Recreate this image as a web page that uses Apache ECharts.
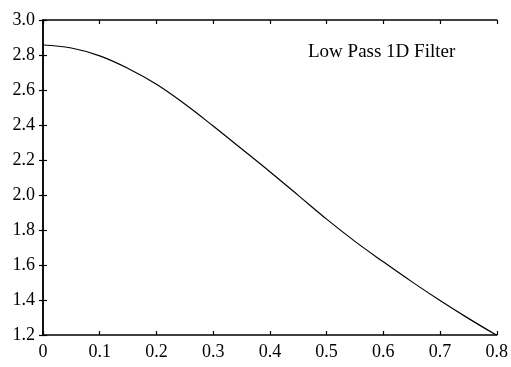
<!DOCTYPE html>
<html>
<head>
<meta charset="utf-8">
<script src="https://cdn.jsdelivr.net/npm/echarts@6/dist/echarts.min.js"></script>
<style>html,body{margin:0;padding:0;background:#fff}#c{width:511px;height:367px}</style>
</head>
<body>
<div id="c"></div>
<script>
const xValues = [0, 0.05, 0.1, 0.15, 0.2, 0.25, 0.3, 0.35, 0.4, 0.45, 0.5, 0.55, 0.6, 0.65, 0.7, 0.75, 0.8];
const yValues = [2.857, 2.84, 2.795, 2.723, 2.633, 2.52, 2.394, 2.264, 2.133, 1.998, 1.862, 1.735, 1.618, 1.505, 1.397, 1.295, 1.198];
const xTicks = ['0', '0.1', '0.2', '0.3', '0.4', '0.5', '0.6', '0.7', '0.8'];
const yTicks = ['1.2', '1.4', '1.6', '1.8', '2.0', '2.2', '2.4', '2.6', '2.8', '3.0'];
const title = 'Low Pass 1D Filter';

const font = 'Liberation Serif';
const chart = echarts.init(document.getElementById('c'));
const axisLine = {show: true, lineStyle: {color: '#000', width: 1.5}};
const tick = {show: true, inside: true, length: 4, lineStyle: {color: '#000', width: 1.2}};
chart.setOption({
  animation: false,
  backgroundColor: '#fff',
  title: {text: title, left: 303, top: 38, textStyle: {fontFamily: font, fontSize: 19, fontWeight: 'normal', color: '#000'}},
  grid: {left: 43, right: 12, top: 20, bottom: 32},
  xAxis: [{
    type: 'value', min: 0, max: 0.8, interval: 0.1, position: 'bottom',
    axisLine: axisLine, axisTick: tick, splitLine: {show: false},
    axisLabel: {margin: 8, fontFamily: font, fontSize: 18, color: '#000',
      formatter: v => xTicks[Math.round(v * 10)]}
  }, {
    type: 'value', min: 0, max: 0.8, interval: 0.1, position: 'top',
    axisLine: axisLine, axisTick: tick, splitLine: {show: false}, axisLabel: {show: false}
  }],
  yAxis: [{
    type: 'value', min: 1.2, max: 3.0, interval: 0.2, position: 'left',
    axisLine: axisLine, axisTick: tick, splitLine: {show: false},
    axisLabel: {margin: 8, fontFamily: font, fontSize: 18, color: '#000',
      formatter: v => yTicks[Math.round((v - 1.2) * 5)]}
  }, {
    type: 'value', min: 1.2, max: 3.0, interval: 0.2, position: 'right',
    axisLine: axisLine, axisTick: tick, splitLine: {show: false}, axisLabel: {show: false}
  }],
  series: [{
    type: 'line', smooth: 0.4, showSymbol: false,
    lineStyle: {color: '#000', width: 1.2},
    data: xValues.map((x, i) => [x, yValues[i]])
  }]
});
</script>
</body>
</html>
